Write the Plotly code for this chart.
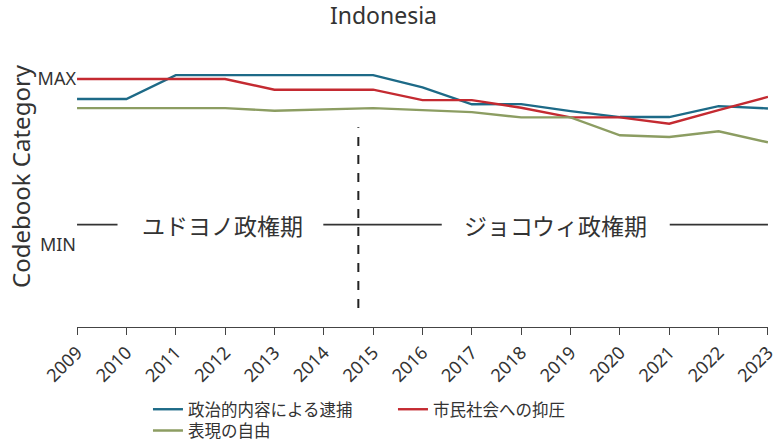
import plotly.graph_objects as go

years = list(range(2009, 2024))
arrest_political = [0.880, 0.880, 1.024, 1.024, 1.024, 1.024, 1.024, 0.950, 0.848, 0.849, 0.807, 0.771, 0.771, 0.837, 0.823]
civil_repression = [1.000, 1.000, 1.000, 1.000, 0.936, 0.936, 0.936, 0.873, 0.873, 0.827, 0.769, 0.769, 0.731, 0.813, 0.893]
free_expression = [0.825, 0.825, 0.825, 0.825, 0.809, 0.817, 0.825, 0.813, 0.801, 0.769, 0.769, 0.661, 0.651, 0.685, 0.619]

series_names = ["政治的内容による逮捕", "市民社会への抑圧", "表現の自由"]
series_colors = ["#1d6a87", "#c42a31", "#8c9d62"]
series_legends = ["legend", "legend", "legend2"]
y_tick_vals = [0, 1]
y_tick_text = ["MIN", "MAX"]

period_names = ["ユドヨノ政権期", "ジョコウィ政権期"]
period_label_x = [2011.95, 2018.7]
period_label_y = 0.123
period_segments = [(2009.0, 2009.82), (2013.99, 2016.39), (2021.01, 2023.0)]
transition_x = 2014.7
transition_y = (-0.38, 0.71)

FONT = "Noto Sans, Noto Sans CJK JP, sans-serif"
JP = "Noto Sans CJK JP, Noto Sans, sans-serif"

fig = go.Figure()
for name, vals, col, lg in zip(series_names, [arrest_political, civil_repression, free_expression],
                               series_colors, series_legends):
    fig.add_trace(go.Scatter(x=years, y=vals, mode="lines", name=name, legend=lg,
                             line=dict(color=col, width=2.4)))

for x0, x1 in period_segments:
    fig.add_shape(type="line", xref="x", yref="y", x0=x0, x1=x1, y0=period_label_y, y1=period_label_y,
                  line=dict(color="#333333", width=1.6))
for name, px in zip(period_names, period_label_x):
    fig.add_annotation(x=px, y=period_label_y, xref="x", yref="y", text=name, showarrow=False,
                       font=dict(family=JP, size=23, color="#333333"))

fig.add_shape(type="line", xref="x", yref="y", x0=transition_x, x1=transition_x,
              y0=transition_y[0], y1=transition_y[1],
              line=dict(color="#222222", width=2, dash="dash"))

fig.add_annotation(x=-0.0825, y=0.555, xref="paper", yref="paper", text="Codebook Category",
                   showarrow=False, textangle=-90, font=dict(family=FONT, size=24, color="#333333"),
                   xanchor="center", yanchor="middle")

legend_font = dict(family=JP, size=16.5, color="#333333")
fig.update_layout(
    width=775, height=442,
    margin=dict(l=77, r=7, t=55, b=115, autoexpand=False),
    paper_bgcolor="white", plot_bgcolor="white",
    font=dict(family=FONT, color="#333333"),
    title=dict(text="Indonesia", x=0.4948, xref="container", xanchor="center", y=0.965, yanchor="middle",
               yref="container", font=dict(family=FONT, size=23, color="#333333"), automargin=False),
    xaxis=dict(range=[2008.999, 2023.001], tickmode="array", tickvals=years, ticktext=[str(y) for y in years],
               tickangle=-45, ticks="outside", ticklen=7, tickcolor="#444444", showline=True,
               linecolor="#444444", linewidth=1, showgrid=False, zeroline=False, automargin=False,
               ticklabeloverflow="allow",
               tickfont=dict(family=FONT, size=18, color="#333333")),
    yaxis=dict(range=[-0.494, 1.145], tickmode="array", tickvals=y_tick_vals, ticktext=y_tick_text,
               showgrid=False, zeroline=False, showline=False, ticks="", automargin=False,
               tickfont=dict(family=FONT, size=18, color="#333333")),
    showlegend=True,
    legend=dict(orientation="h", x=0.1027, xanchor="left", y=-0.239, yanchor="top",
                entrywidth=200, entrywidthmode="pixels", traceorder="normal",
                font=legend_font, bgcolor="rgba(0,0,0,0)"),
    legend2=dict(orientation="h", x=0.1027, xanchor="left", y=-0.317, yanchor="top",
                 font=legend_font, bgcolor="rgba(0,0,0,0)"),
)

fig.write_html("out.html", config={"displayModeBar": False},
               post_script="document.body.style.margin='0';document.body.style.overflow='hidden';")
